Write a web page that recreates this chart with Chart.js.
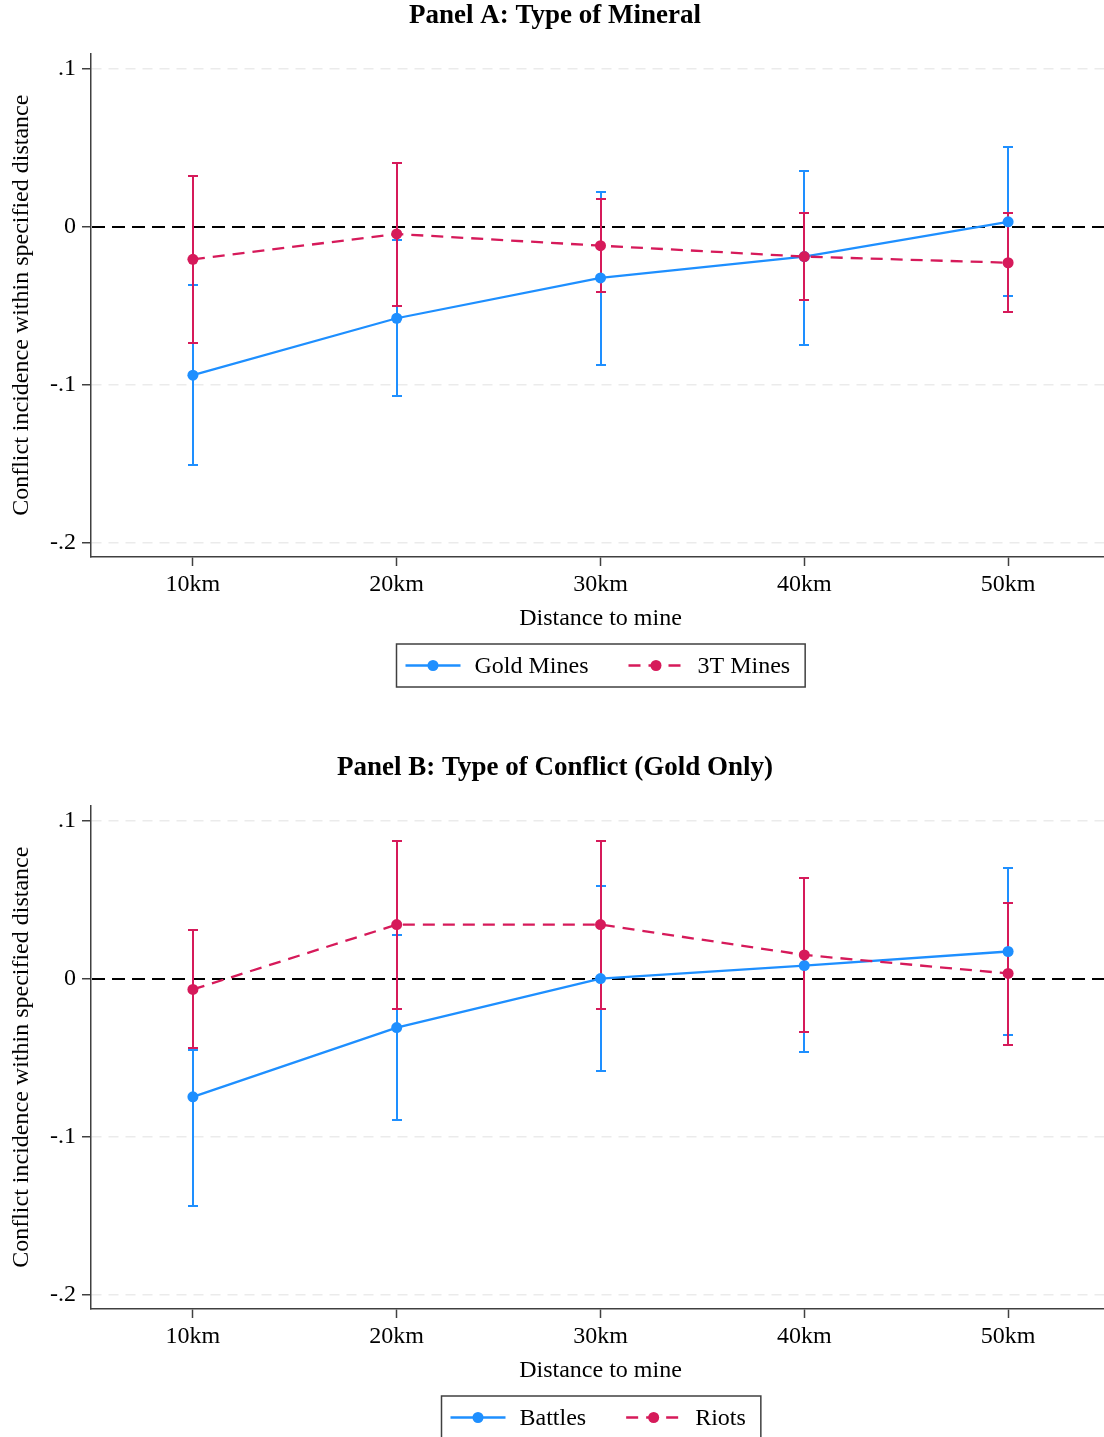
<!DOCTYPE html>
<html>
<head>
<meta charset="utf-8">
<script src="https://cdn.jsdelivr.net/npm/chart.js@4.4.1/dist/chart.umd.min.js"></script>
<style>
  html, body { margin: 0; padding: 0; background: #fff; overflow: hidden; }
  /* plot region runs a few pixels past the right edge of the page */
  .panel { position: absolute; left: 0; width: 1110px; height: 752px; }
  #panel-a { top: 0; }
  #panel-b { top: 752px; }
</style>
</head>
<body>
<div class="panel" id="panel-a"><canvas id="chart-a"></canvas></div>
<div class="panel" id="panel-b"><canvas id="chart-b"></canvas></div>
<script>
const distances = [10, 20, 30, 40, 50];
const xTicks    = [10, 20, 30, 40, 50];
const yTicks    = [-0.2, -0.1, 0, 0.1];

/* Panel A: type of mineral */
const goldEst = [-0.094, -0.058, -0.0325, -0.019, 0.003];
const goldLo  = [-0.151, -0.107, -0.0875, -0.075, -0.044];
const goldHi  = [-0.037, -0.0085, 0.022, 0.035, 0.050];
const t3Est   = [-0.0207, -0.0047, -0.0121, -0.019, -0.0229];
const t3Lo    = [-0.0738, -0.050, -0.0412, -0.0462, -0.0542];
const t3Hi    = [0.0319, 0.040, 0.0176, 0.0087, 0.0087];

/* Panel B: type of conflict, gold only */
const battlesEst = [-0.0748, -0.031, 0.0, 0.0082, 0.0171];
const battlesLo  = [-0.1437, -0.0894, -0.0586, -0.0467, -0.036];
const battlesHi  = [-0.045, 0.0278, 0.0587, 0.0634, 0.0697];
const riotsEst   = [-0.0069, 0.0341, 0.0341, 0.0149, 0.0032];
const riotsLo    = [-0.0442, -0.019, -0.019, -0.0339, -0.042];
const riotsHi    = [0.0305, 0.0869, 0.0869, 0.0638, 0.048];

const BLUE  = '#1e8fff';
const RED   = '#d61a5a';
const AXIS  = '#404040';
const SERIF = '"Liberation Serif", "Times New Roman", serif';

Chart.defaults.font.family = SERIF;
Chart.defaults.color = '#000';

const toPts = vals => vals.map((v, i) => ({ x: distances[i], y: v }));

// Stata-style labels: .1, 0, -.1, -.2
const fmtTick = v => {
  if (Math.abs(v) < 1e-9) return '0';
  return (v < 0 ? '-' : '') + Math.abs(v).toFixed(1).replace(/^0/, '');
};

/* dashed black reference line at zero */
const zeroLine = {
  id: 'zeroLine',
  beforeDatasetsDraw(chart) {
    const { ctx, chartArea, scales: { y } } = chart;
    const py = Math.round(y.getPixelForValue(0));
    ctx.save();
    ctx.strokeStyle = '#000';
    ctx.lineWidth = 2;
    ctx.setLineDash([13, 7]);
    ctx.beginPath();
    ctx.moveTo(chartArea.left + 1, py);
    ctx.lineTo(chartArea.right, py);
    ctx.stroke();
    ctx.restore();
  }
};

/* confidence intervals as capped vertical bars */
const errorBars = {
  id: 'errorBars',
  beforeDatasetsDraw(chart) {
    const { ctx, scales: { x, y } } = chart;
    chart.data.datasets.forEach(ds => {
      ctx.save();
      ctx.strokeStyle = ds.borderColor;
      ctx.lineWidth = 2;
      ds.data.forEach((pt, i) => {
        const px  = Math.round(x.getPixelForValue(pt.x));
        const top = Math.round(y.getPixelForValue(ds.upper[i]));
        const bot = Math.round(y.getPixelForValue(ds.lower[i]));
        ctx.beginPath();
        ctx.moveTo(px, top);     ctx.lineTo(px, bot);
        ctx.moveTo(px - 5, top); ctx.lineTo(px + 5, top);
        ctx.moveTo(px - 5, bot); ctx.lineTo(px + 5, bot);
        ctx.stroke();
      });
      ctx.restore();
    });
  }
};

/* framed legend under the axis title */
const boxLegend = {
  id: 'boxLegend',
  afterDraw(chart) {
    const { ctx, chartArea } = chart;
    ctx.save();
    ctx.font = '24px ' + SERIF;
    const items = chart.data.datasets.map(ds => ({ ds, w: ctx.measureText(ds.label).width }));
    const sample = 55, gap = 14, between = 40, padL = 9, padR = 15;
    const total = padL + padR + between * (items.length - 1)
                + items.reduce((s, it) => s + sample + gap + it.w, 0);
    const top = chartArea.bottom + 87, h = 43;
    const left = Math.round((chartArea.left + chartArea.right) / 2 - total / 2) + 0.5;

    ctx.strokeStyle = AXIS;
    ctx.lineWidth = 1.5;
    ctx.strokeRect(left, top, total, h);

    let cx = left + padL;
    const cy = top + h / 2;
    items.forEach(({ ds, w }) => {
      ctx.strokeStyle = ds.borderColor;
      ctx.lineWidth = 2.3;
      ctx.setLineDash(ds.borderDash || []);
      ctx.beginPath();
      ctx.moveTo(cx, cy);
      ctx.lineTo(cx + sample, cy);
      ctx.stroke();
      ctx.setLineDash([]);
      ctx.fillStyle = ds.borderColor;
      ctx.beginPath();
      ctx.arc(cx + sample / 2, cy, 5.5, 0, Math.PI * 2);
      ctx.fill();
      ctx.fillStyle = '#000';
      ctx.textAlign = 'left';
      ctx.textBaseline = 'middle';
      ctx.fillText(ds.label, cx + sample + gap, cy + 1);
      cx += sample + gap + w + between;
    });
    ctx.restore();
  }
};

function series(label, color, est, lo, hi, dashed, order) {
  return {
    label,
    data: toPts(est),
    lower: lo,
    upper: hi,
    borderColor: color,
    backgroundColor: color,
    borderWidth: 2.3,
    borderDash: dashed ? [12, 8] : [],
    pointRadius: 5.5,
    pointHoverRadius: 5.5,
    pointBorderWidth: 0,
    pointBackgroundColor: color,
    tension: 0,
    order,
  };
}

function makePanel(canvasId, title, datasets) {
  return new Chart(document.getElementById(canvasId), {
    type: 'line',
    data: { datasets },
    plugins: [zeroLine, errorBars, boxLegend],
    options: {
      responsive: true,
      maintainAspectRatio: false,
      devicePixelRatio: 1,
      animation: false,
      events: [],
      layout: { padding: 0, autoPadding: false },
      plugins: {
        legend: { display: false },
        tooltip: { enabled: false },
        title: {
          display: true,
          text: title,
          color: '#000',
          font: { family: SERIF, size: 27, weight: 'bold' },
          padding: { top: 0, bottom: 21 },
        },
      },
      scales: {
        x: {
          type: 'linear',
          min: 5,
          max: 55,
          afterFit: s => { s.height = 195; },
          afterBuildTicks: s => { s.ticks = xTicks.map(v => ({ value: v })); },
          ticks: {
            callback: v => v + 'km',
            font: { size: 24 },
            color: '#000',
            padding: 4,
            maxRotation: 0,
          },
          grid: {
            drawOnChartArea: false,
            drawTicks: true,
            tickLength: 9,
            tickColor: AXIS,
            tickWidth: 1.5,
          },
          border: { display: true, color: AXIS, width: 1.5 },
          title: {
            display: true,
            text: 'Distance to mine',
            font: { size: 24 },
            color: '#000',
            padding: { top: 0, bottom: 119 },
          },
        },
        y: {
          min: -0.209,
          max: 0.1095,
          afterFit: s => { s.width = 91; },
          afterBuildTicks: s => { s.ticks = yTicks.map(v => ({ value: v })); },
          ticks: {
            callback: fmtTick,
            font: { size: 24 },
            color: '#000',
            padding: 6,
          },
          grid: {
            color: c => (c.tick && Math.abs(c.tick.value) < 1e-9) ? 'rgba(0,0,0,0)' : '#ebebeb',
            lineWidth: 1.5,
            drawTicks: true,
            tickLength: 9,
            tickColor: AXIS,
            tickWidth: 1.5,
            tickBorderDash: [],
          },
          border: { display: true, color: AXIS, width: 1.5, dash: [10, 7] },
          title: {
            display: true,
            text: 'Conflict incidence within specified distance',
            font: { size: 24 },
            color: '#000',
            padding: { top: 7, bottom: 0 },
          },
        },
      },
    },
  });
}

makePanel('chart-a', 'Panel A: Type of Mineral', [
  series('Gold Mines', BLUE, goldEst, goldLo, goldHi, false, 2),
  series('3T Mines',   RED,  t3Est,   t3Lo,   t3Hi,   true,  1),
]);

makePanel('chart-b', 'Panel B: Type of Conflict (Gold Only)', [
  series('Battles', BLUE, battlesEst, battlesLo, battlesHi, false, 2),
  series('Riots',   RED,  riotsEst,   riotsLo,   riotsHi,   true,  1),
]);
</script>
</body>
</html>
